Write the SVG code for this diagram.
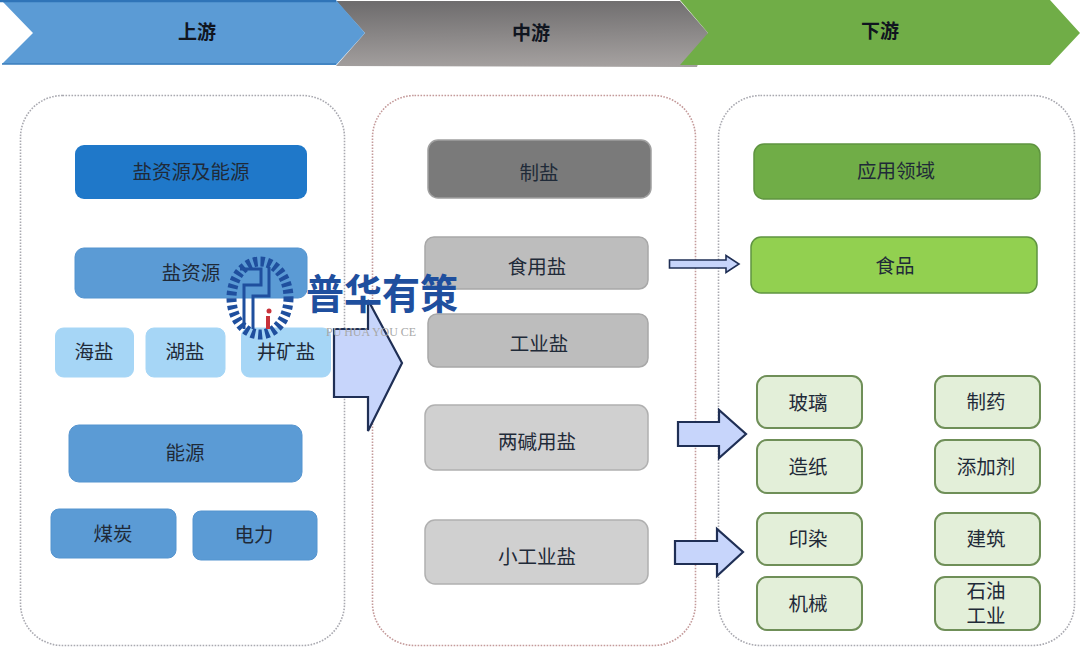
<svg xmlns="http://www.w3.org/2000/svg" width="1080" height="647" viewBox="0 0 1080 647">
<defs>
<linearGradient id="gray" x1="0.45" y1="0" x2="0.55" y2="1"><stop offset="0" stop-color="#6f6d6e"/><stop offset="1" stop-color="#a5a1a0"/></linearGradient>
</defs>
<style>
text{font-family:"Liberation Sans","Noto Sans CJK SC",sans-serif;font-size:19.500px;text-anchor:middle;fill:#1f2a38}
.band{font-size:19px;font-weight:700;fill:#10151f}
.panel{fill:#fff;stroke-width:1.600;stroke-dasharray:1.600 1.400}
.blue{fill:#5b9bd5;stroke:#5594cf}
.sky{fill:#a6d6f6;stroke:#a6d6f6}
.pale{fill:#e3efd9;stroke:#6f8f58;stroke-width:2}
.grey{fill:#bdbdbd;stroke:#a8a8a8;stroke-width:1.500}
.lgrey{fill:#d0d0d0;stroke:#b0b0b0;stroke-width:1.500}
.arrow{fill:#c7d5fb;stroke:#1f2f55;stroke-width:2.200}
</style>
<rect width="1080" height="647" fill="#fff"/>
<g id="band-mid"><polygon points="336,1 680,1 708,33 697,67 336,66 365,33" fill="url(#gray)"/><text class="band" x="531" y="40">中游</text></g>
<g id="band-up"><polygon points="2,64 33,33 2,1 336,0 365,33 336,65" fill="#5b9bd5"/><path d="M0,1H336" stroke="#2f74b8" stroke-width="2.500"/><path d="M2,64H336" stroke="#3a7ebd" stroke-width="1.500"/><text class="band" x="197" y="39">上游</text></g>
<g id="band-down"><polygon points="680,0 1050,0 1080,33 1050,65 680,65 708,33" fill="#70ad47"/><text class="band" x="880" y="38">下游</text></g>

<g id="panel-up"><rect class="panel" x="20.500" y="95.500" width="324" height="550" rx="42" stroke="#a9a9b0"/></g>
<g id="panel-mid"><rect class="panel" x="372.500" y="95.500" width="323" height="550" rx="42" stroke="#c49a9a"/></g>
<g id="panel-down"><rect class="panel" x="718.500" y="95.500" width="356" height="550" rx="42" stroke="#a9a9b0"/></g>

<g id="n-salt-energy"><rect x="75" y="145" width="232" height="54" rx="9" fill="#1f78c9"/><text x="191" y="179">盐资源及能源</text></g>
<g id="n-salt"><rect class="blue" x="75" y="248" width="232" height="50" rx="9"/><text x="191" y="280">盐资源</text></g>
<g id="n-sea"><rect class="sky" x="55.500" y="328" width="78" height="49" rx="8"/><text x="94" y="359">海盐</text></g>
<g id="n-lake"><rect class="sky" x="146" y="328" width="79" height="49" rx="8"/><text x="185" y="359">湖盐</text></g>
<g id="n-well"><rect class="sky" x="241.500" y="328" width="89" height="49" rx="8"/><text x="286" y="359">井矿盐</text></g>
<g id="n-energy"><rect class="blue" x="69" y="425" width="233" height="57" rx="10"/><text x="185" y="460">能源</text></g>
<g id="n-coal"><rect class="blue" x="51" y="509" width="125" height="49" rx="8"/><text x="113" y="541">煤炭</text></g>
<g id="n-power"><rect class="blue" x="193" y="511" width="124" height="49" rx="8"/><text x="254" y="542">电力</text></g>

<g id="n-make"><rect x="428" y="140" width="223" height="58" rx="10" fill="#7a7a7a" stroke="#a0a0a0" stroke-width="1.500"/><text x="539" y="180">制盐</text></g>
<g id="n-edible"><rect class="grey" x="425" y="237" width="223" height="52" rx="9"/><text x="537" y="274">食用盐</text></g>
<g id="n-ind"><rect class="grey" x="428" y="314" width="220" height="53" rx="9"/><text x="539" y="351">工业盐</text></g>
<g id="n-alkali"><rect class="lgrey" x="425" y="405" width="223" height="65" rx="10"/><text x="537" y="449">两碱用盐</text></g>
<g id="n-small"><rect class="lgrey" x="425" y="520" width="223" height="64" rx="10"/><text x="537" y="564">小工业盐</text></g>

<g id="n-app"><rect x="754" y="144" width="286" height="55" rx="10" fill="#70ad47" stroke="#5f9440" stroke-width="1.500"/><text x="896" y="178">应用领域</text></g>
<g id="n-food"><rect x="751" y="237" width="286" height="56" rx="10" fill="#92d050" stroke="#5f9440" stroke-width="1.500"/><text x="895" y="273">食品</text></g>
<g id="n-glass"><rect class="pale" x="757" y="376" width="105" height="52" rx="10"/><text x="808" y="410">玻璃</text></g>
<g id="n-pharma"><rect class="pale" x="935" y="376" width="105" height="52" rx="10"/><text x="986" y="409">制药</text></g>
<g id="n-paper"><rect class="pale" x="757" y="440" width="105" height="53" rx="10"/><text x="808" y="474">造纸</text></g>
<g id="n-add"><rect class="pale" x="935" y="440" width="105" height="53" rx="10"/><text x="986" y="474">添加剂</text></g>
<g id="n-print"><rect class="pale" x="757" y="513" width="105" height="52" rx="10"/><text x="808" y="546">印染</text></g>
<g id="n-build"><rect class="pale" x="935" y="513" width="105" height="52" rx="10"/><text x="986" y="546">建筑</text></g>
<g id="n-mach"><rect class="pale" x="757" y="577" width="105" height="53" rx="10"/><text x="808" y="611">机械</text></g>
<g id="n-oil"><rect class="pale" x="935" y="577" width="105" height="53" rx="10"/><text x="986" y="598">石油</text><text x="986" y="623">工业</text></g>

<g id="connectors">
<polygon class="arrow" points="334,329 368,329 368,300 402,363 368,431 368,397 334,397"/>
<polygon points="669.500,260 726,260 726,255.500 739,264 726,272.500 726,268 669.500,268" fill="#c7d5fb" stroke="#1f2f55" stroke-width="1.600"/>
<polygon class="arrow" points="678,422 719,422 719,410 746,434 719,458 719,446 678,446"/>
<polygon class="arrow" points="675,541 717,541 717,529 743,552 717,576 717,564 675,564"/>
</g>

<g id="logo">
<ellipse cx="260" cy="298" rx="28.500" ry="36.500" fill="none" stroke="#1f4f9e" stroke-width="10" stroke-dasharray="4 3"/>
<path d="M244,329V285H261V269H240M253,329V296H269V267" fill="none" stroke="#1f4f9e" stroke-width="3"/>
<path d="M268,316V329" stroke="#c8323a" stroke-width="4"/><circle cx="269" cy="311" r="2.500" fill="#c8323a"/>
<text x="382" y="309" textLength="152" lengthAdjust="spacingAndGlyphs" style="font-size:41px;font-weight:700;fill:#1f4f9e">普华有策</text>
<text x="371" y="336" textLength="90" lengthAdjust="spacingAndGlyphs" style="font-size:13px;fill:#a8a8a8;font-family:'Liberation Serif',serif">PU HUA YOU CE</text>
</g>
</svg>
